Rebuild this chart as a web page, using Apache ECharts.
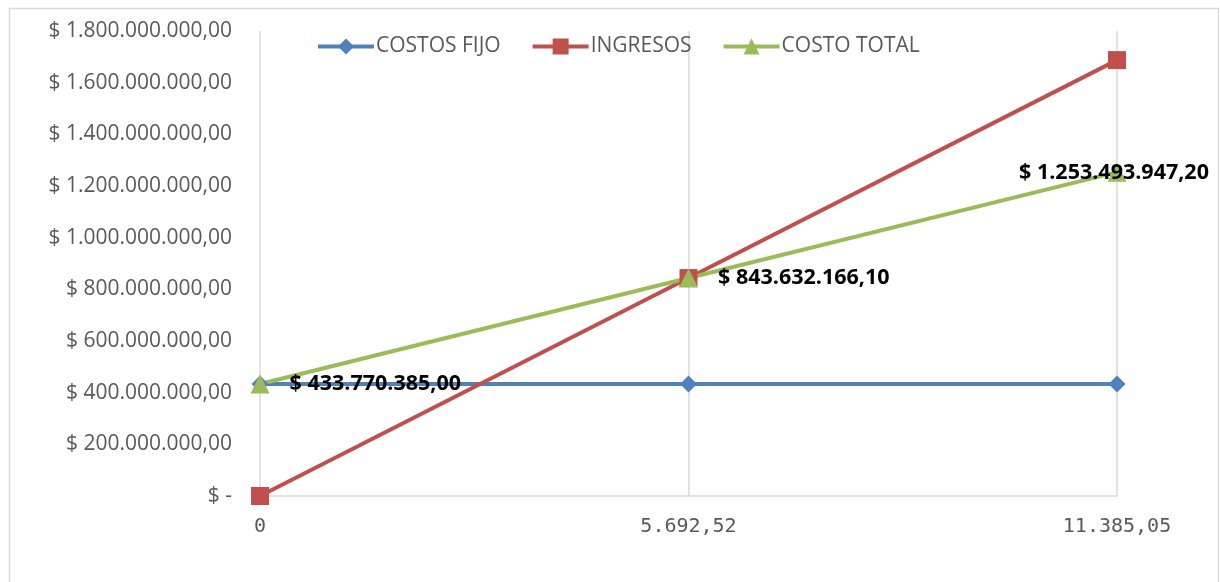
<!DOCTYPE html>
<html>
<head>
<meta charset="utf-8">
<script src="https://cdn.jsdelivr.net/npm/echarts@6/dist/echarts.min.js"></script>
<style>html,body{margin:0;padding:0;background:#fff;}#c{width:1220px;height:582px;}</style>
</head>
<body>
<div id="c"></div>
<script>
const categories = ['0', '5.692,52', '11.385,05'];
const costosFijo = [433770385.00, 433770385.00, 433770385.00];
const ingresos = [0, 843632166.10, 1687264332.20];
const costoTotal = [433770385.00, 843632166.10, 1253493947.20];
const yTickValues = [0, 200000000, 400000000, 600000000, 800000000, 1000000000, 1200000000, 1400000000, 1600000000, 1800000000];
const yTickLabels = ['$ -', '$ 200.000.000,00', '$ 400.000.000,00', '$ 600.000.000,00', '$ 800.000.000,00', '$ 1.000.000.000,00', '$ 1.200.000.000,00', '$ 1.400.000.000,00', '$ 1.600.000.000,00', '$ 1.800.000.000,00'];
const seriesNames = ['COSTOS FIJO', 'INGRESOS', 'COSTO TOTAL'];

function fmtMoney(v) {
  const parts = v.toFixed(2).split('.');
  const intPart = parts[0].replace(/\B(?=(\d{3})+(?!\d))/g, '.');
  return '$ ' + intPart + ',' + parts[1];
}

const chart = echarts.init(document.getElementById('c'));
const labelStyle = { fontFamily: 'Open Sans', fontWeight: 'bold', fontSize: 21.5, color: '#000' };
chart.setOption({
  animation: false,
  backgroundColor: '#fff',
  graphic: [{
    type: 'rect', left: 7, top: 6, silent: true,
    shape: { width: 1209, height: 590 },
    style: { fill: 'none', stroke: '#d9d9d9', lineWidth: 1.5 }
  }],
  legend: {
    top: 31, left: 311, itemGap: 30, itemWidth: 56, itemHeight: 20,
    lineStyle: { width: 4 },
    textStyle: { fontFamily: 'Open Sans', fontSize: 21, color: '#595959', padding: [0, 0, 0, -3] },
    data: seriesNames
  },
  grid: { left: 260, right: 103, top: 31, bottom: 86, containLabel: false },
  xAxis: {
    type: 'category', data: categories, boundaryGap: false,
    axisLine: { show: true, lineStyle: { color: '#d9d9d9', width: 1.5 } },
    axisTick: { show: false },
    splitLine: { show: true, lineStyle: { color: '#d9d9d9', width: 1.5 } },
    axisLabel: { margin: 21, fontFamily: 'DejaVu Sans Mono', fontSize: 20, color: '#595959' }
  },
  yAxis: {
    type: 'value', min: 0, max: 1800000000, interval: 200000000,
    axisLine: { show: false }, axisTick: { show: false }, splitLine: { show: false },
    axisLabel: {
      margin: 28, fontFamily: 'Open Sans', fontSize: 21, color: '#595959',
      formatter: v => { const i = yTickValues.indexOf(v); return i >= 0 ? yTickLabels[i] : ''; }
    }
  },
  series: [
    {
      name: seriesNames[0], type: 'line', data: costosFijo,
      symbol: 'diamond', symbolSize: 17,
      lineStyle: { color: '#4f81bd', width: 4 }, itemStyle: { color: '#4f81bd' }
    },
    {
      name: seriesNames[1], type: 'line', data: ingresos,
      symbol: 'rect', symbolSize: 18,
      lineStyle: { color: '#c0504d', width: 4 }, itemStyle: { color: '#c0504d' }
    },
    {
      name: seriesNames[2], type: 'line', z: 3,
      data: costoTotal.map((v, i) => ({
        value: v,
        label: i === 2 ? { position: 'inside', offset: [-3, 1] } : { position: 'right', distance: 20 }
      })),
      symbol: 'triangle', symbolSize: 19,
      lineStyle: { color: '#9bbb59', width: 4 }, itemStyle: { color: '#9bbb59' },
      label: Object.assign({ show: true, formatter: p => fmtMoney(p.value) }, labelStyle)
    }
  ]
});
</script>
</body>
</html>
